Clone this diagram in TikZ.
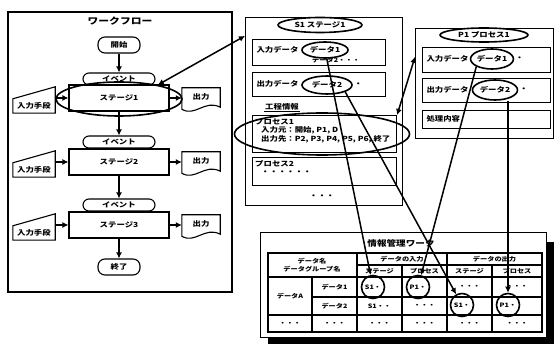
\documentclass[tikz,border=0pt]{standalone}
\usepackage{fontspec}
\setmainfont{Noto Sans CJK JP}[FakeStretch=1.2]
\usetikzlibrary{arrows.meta,positioning,calc,shapes.geometric}
\newcommand{\fz}[1]{\fontsize{#1}{#1}\selectfont\bfseries}
\tikzset{
  panel/.style={rectangle, draw, line width=1.1pt, fill=white, inner sep=0pt},
  box/.style={rectangle, draw, line width=1.1pt, fill=white, inner sep=0pt},
  tag/.style={ellipse, draw, line width=1.6pt, fill=white, inner sep=0pt},
  hilite/.style={ellipse, draw, line width=1.6pt, inner sep=0pt},
  flow/.style={-{Latex[length=6pt,width=6pt]}, line width=1.6pt},
  link/.style={-{Latex[length=6pt,width=6pt]}, line width=1.5pt},
}
\begin{document}
\begin{tikzpicture}[x=1pt, y=-1pt, font=\fz{7},
    term/.style={rectangle, rounded corners=7pt, draw, line width=1.1pt, fill=white, minimum width=42pt, minimum height=16pt},
    event/.style={rectangle, rounded corners=6pt, draw, line width=1.1pt, fill=white, minimum width=72pt, minimum height=12pt, inner sep=0pt},
    stage/.style={rectangle, draw, line width=1.1pt, fill=white, minimum width=100pt, minimum height=26pt},
    inhand/.style={minimum width=42pt, minimum height=14pt, inner sep=0pt},
    outdoc/.style={minimum width=38pt, minimum height=18pt, inner sep=0pt},
    cellring/.style={circle, draw, line width=1.6pt, minimum size=23pt, inner sep=0pt, font=\fz{6}},
    cell/.style={font=\fz{6}, inner sep=1pt},
    grid/.style={line width=1.1pt}
]
\useasboundingbox (0,0) rectangle (555,347);

% Workflow
\draw[line width=1.1pt] (8,12) rectangle (232,292);
\node[font=\fz{9}] (wftitle) at (120,21) {ワークフロー};
\node[term] (start) at (119,45) {開始};
\node[event] (ev1) at (119,79) {イベント};
\node[stage] (st1) at (119,98) {ステージ1};
\node[event] (ev2) at (119,142) {イベント};
\node[stage] (st2) at (119,162) {ステージ2};
\node[event] (ev3) at (119,205) {イベント};
\node[stage] (st3) at (119,225) {ステージ3};
\node[term] (end) at (119,267) {終了};
\node[hilite, minimum width=126pt, minimum height=34pt] (st1ring) at (119,99) {};

\foreach \r/\yy in {1/106, 2/170, 3/233} {
  \node[inhand] (in\r) at (34,\yy) {入力手段};
  \draw[line width=1.1pt] (in\r.south west) -- (in\r.north west)
    -- ($(in\r.north east)+(0,-12)$) -- (in\r.south east) -- cycle;
  \node[outdoc] (out\r) at (201,\yy-9) {出力};
  \draw[line width=1.1pt] (out\r.north west) -- (out\r.north east) -- ($(out\r.south east)+(0,1)$)
    .. controls ($(out\r.south)+(4,-7)$) and ($(out\r.south)+(-6,11)$) .. ($(out\r.south west)+(0,3)$) -- cycle;
  \draw[flow] (in\r.east |- st\r.west) -- (st\r.west);
  \draw[flow] (st\r.east) -- (out\r.west |- st\r.east);
}
\draw[flow] (start) -- (ev1);
\draw[flow] (st1) -- (ev2);
\draw[flow] (st2) -- (ev3);
\draw[flow] (st3) -- (end);

% Stage S1
\node[panel, minimum width=157pt, minimum height=188pt, anchor=north west] (s1panel) at (245,17) {};
\node[tag, minimum width=84pt, minimum height=15pt] (s1title) at (320,25) {S1 ステージ1};
\node[box, minimum width=133pt, minimum height=26pt, anchor=north west] (s1inbox) at (252,39) {};
\node[anchor=west] (s1inlbl) at (253,50) {入力データ};
\node[tag, minimum width=46pt, minimum height=16pt] (s1d1) at (325,50) {データ1};
\node[font=\fz{6}] (s1more) at (336,60) {データ2・・・};
\node[box, minimum width=133pt, minimum height=24pt, anchor=north west] (s1outbox) at (252,72) {};
\node[anchor=west] (s1outlbl) at (253,84) {出力データ};
\node[tag, minimum width=50pt, minimum height=18pt] (s1d2) at (327,85) {データ2};
\node[anchor=west, inner sep=1pt] (s1d2more) at (s1d2.east) {・};
\node[inner sep=1pt] (s1info) at (282,107) {工程情報};
\draw[line width=1.1pt] (s1info.south west) -- (s1info.south east);
\node[box, minimum width=144pt, minimum height=37pt, anchor=north west] (p1box) at (252,115) {};
\node[anchor=north west, align=left, inner sep=1pt] (p1txt) at (254,117)
  {プロセス1\\[1pt]\hspace{6pt}入力元：開始, P1, D\\[1pt]\hspace{6pt}出力先：P2, P3, P4, P5, P6, 終了};
\node[hilite, minimum width=175pt, minimum height=42pt] (p1ring) at (322,134) {};
\node[box, minimum width=144pt, minimum height=28pt, anchor=north west] (p2box) at (252,157) {};
\node[anchor=north west, align=left, inner sep=1pt] (p2txt) at (254,159) {プロセス2\\[1pt]\hspace{6pt}・・・・・・};
\node (s1dots) at (322,197) {・・・};

% Process P1
\node[panel, minimum width=138pt, minimum height=110pt, anchor=north west] (p1panel) at (415,28) {};
\node[tag, minimum width=88pt, minimum height=14pt] (p1title) at (484,35) {P1 プロセス1};
\node[box, minimum width=128pt, minimum height=25pt, anchor=north west] (p1inbox) at (422,47) {};
\node[anchor=west] (p1inlbl) at (423,59) {入力データ};
\node[tag, minimum width=42pt, minimum height=20pt] (p1d1) at (492,59) {データ1};
\node[anchor=west, inner sep=1pt] (p1d1more) at (p1d1.east) {・};
\node[box, minimum width=128pt, minimum height=24pt, anchor=north west] (p1outbox) at (422,78) {};
\node[anchor=west] (p1outlbl) at (423,90) {出力データ};
\node[tag, minimum width=45pt, minimum height=20pt] (p1d2) at (495,90) {データ2};
\node[anchor=west, inner sep=1pt] (p1d2more) at (p1d2.east) {・};
\node[box, minimum width=128pt, minimum height=18pt, anchor=north west] (p1work) at (422,110) {};
\node[anchor=west] (p1worklbl) at (423,119) {処理内容};

% Links between views
\draw[{Latex[length=6pt,width=6pt]}-{Latex[length=6pt,width=6pt]}, line width=1.5pt]
  (st1ring.20) -- ($(s1panel.north west)!0.1!(s1panel.south west)$);
\draw[{Latex[length=6pt,width=6pt]}-{Latex[length=6pt,width=6pt]}, line width=1.5pt]
  (p1box.north east) -- ($(p1panel.north west)!0.26!(p1panel.south west)$);

% Information management table
\node[panel, minimum width=286pt, minimum height=105pt, anchor=north west] (tbl) at (260,232) {};
\fill ($(tbl.north east)+(0,10)$) rectangle ($(tbl.south east)+(7,6)$);
\fill ($(tbl.south west)+(8,0)$) rectangle ($(tbl.south east)+(7,6)$);
\node[font=\fz{8}] (tbltitle) at (401,243) {情報管理ワーク};
\draw[grid] (268,253) rectangle (542,332);
\draw[grid] (357,253) -- (357,332) (447,253) -- (447,332);
\draw[grid] (357,265) -- (542,265);
\draw[grid] (402,265) -- (402,332) (492,265) -- (492,332);
\draw[grid] (268,277) -- (542,277);
\draw[grid] (312,277) -- (312,332);
\draw[grid] (312,297) -- (542,297);
\draw[grid] (268,315) -- (542,315);

\node[cell, align=center] (hname) at (312,265) {データ名\\[2pt]データグループ名};
\node[cell] (hin) at (402,259) {データの入力};
\node[cell] (hout) at (494.5,259) {データの出力};
\node[cell] (hinst) at (379.5,271) {ステージ};
\node[cell] (hinpr) at (424.5,271) {プロセス};
\node[cell] (houtst) at (469.5,271) {ステージ};
\node[cell] (houtpr) at (517,271) {プロセス};
\node[cell] (grpA) at (290,296) {データA};
\node[cell] (row1) at (334.5,287) {データ1};
\node[cell] (row2) at (334.5,306) {データ2};
\node[cell] (r2c3) at (379.5,306) {S1・・};
\node[cell] (r2c4) at (424.5,306) {・・・};
\node[cell] (r1c5) at (469.5,287) {・・・};
\node[cell] (r1c6) at (517,287) {・・・};
\foreach \cx [count=\i] in {290,334.5,379.5,424.5,469.5,517}
  \node[cell] (r3c\i) at (\cx,323.5) {・・・};

\node[cellring] (cS1a) at (373,287) {S1・};
\node[cellring] (cP1a) at (418,287) {P1・};
\node[cellring] (cS1b) at (462,305) {S1・};
\node[cellring] (cP1b) at (508,305) {P1・};

% Data links
\draw[link] (s1d1) -- (cS1a);
\draw[link] (s1d2.south east) -- (cS1b);
\draw[link] (p1d1.south west) -- (cP1a);
\draw[link] (p1d2.south -| cP1b) -- (cP1b);
\end{tikzpicture}
\end{document}
